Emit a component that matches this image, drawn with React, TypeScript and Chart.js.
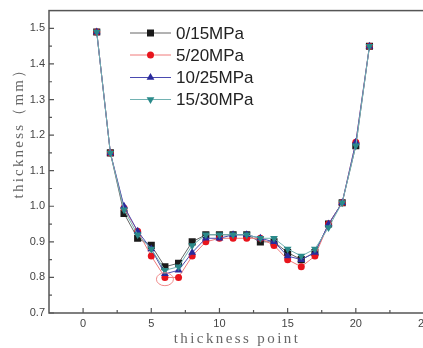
import React, { useEffect, useRef } from "react";
import { Chart, registerables } from "chart.js";

Chart.register(...registerables);

const xPoints = [1, 2, 3, 4, 5, 6, 7, 8, 9, 10, 11, 12, 13, 14, 15, 16, 17, 18, 19, 20, 21];
const seriesNames = ["0/15MPa", "5/20MPa", "10/25MPa", "15/30MPa"];
const s0 = [1.49, 1.15, 0.98, 0.91, 0.89, 0.83, 0.84, 0.9, 0.92, 0.92, 0.92, 0.92, 0.9, 0.9, 0.87, 0.85, 0.87, 0.95, 1.01, 1.17, 1.45];
const s1 = [1.49, 1.15, 0.995, 0.93, 0.86, 0.8, 0.8, 0.86, 0.9, 0.91, 0.91, 0.91, 0.91, 0.89, 0.85, 0.83, 0.86, 0.95, 1.01, 1.18, 1.45];
const s2 = [1.49, 1.15, 1.0, 0.93, 0.88, 0.81, 0.82, 0.87, 0.91, 0.91, 0.92, 0.92, 0.91, 0.9, 0.86, 0.85, 0.87, 0.95, 1.01, 1.18, 1.45];
const s3 = [1.49, 1.15, 0.99, 0.92, 0.88, 0.82, 0.83, 0.89, 0.92, 0.92, 0.92, 0.92, 0.91, 0.91, 0.88, 0.86, 0.88, 0.94, 1.01, 1.17, 1.45];
const yTicks = [0.7, 0.8, 0.9, 1.0, 1.1, 1.2, 1.3, 1.4, 1.5];
const yMinorTicks = [0.75, 0.85, 0.95, 1.05, 1.15, 1.25, 1.35, 1.45];
const xTicks = [0, 5, 10, 15, 20, 25];
const xMinorTicks = [2.5, 7.5, 12.5, 17.5, 22.5];
const xTitle = "thickness point";
const yTitle = "thickness（mm）";
const highlight = { x: 6, y: 0.795 };

const pointColors = ["#1a1a1a", "#e8141c", "#2a2a9c", "#2a8a8a"];
const lineColors = ["#666666", "#f07a7a", "#4a4ab0", "#72b2b2"];
const pointStyles = ["rect", "circle", "triangle", "triangle"];
const pointRotations = [0, 0, 0, 180];
const pointRadii = [5, 3.5, 4.5, 4.5];

function drawMarker(ctx: CanvasRenderingContext2D, i: number, cx: number, cy: number) {
  ctx.fillStyle = pointColors[i];
  ctx.beginPath();
  if (i === 0) {
    ctx.rect(cx - 3.5, cy - 3.5, 7, 7);
  } else if (i === 1) {
    ctx.arc(cx, cy, 3.5, 0, Math.PI * 2);
  } else {
    const r = 4.5;
    const s = i === 2 ? -1 : 1;
    ctx.moveTo(cx, cy + s * r);
    ctx.lineTo(cx - r * 0.866, cy - s * r * 0.5);
    ctx.lineTo(cx + r * 0.866, cy - s * r * 0.5);
    ctx.closePath();
  }
  ctx.fill();
}

const decor = {
  id: "decor",
  afterDraw(chart: any) {
    const { ctx, chartArea: a, scales } = chart;
    const x = scales.x;
    const y = scales.y;
    ctx.save();
    // frame
    ctx.strokeStyle = "#555";
    ctx.lineWidth = 1.5;
    ctx.strokeRect(a.left, a.top, a.right - a.left, a.bottom - a.top);
    // ticks
    ctx.lineWidth = 1.2;
    ctx.beginPath();
    yTicks.forEach((v) => {
      const py = y.getPixelForValue(v);
      ctx.moveTo(a.left, py);
      ctx.lineTo(a.left + 5, py);
    });
    yMinorTicks.forEach((v) => {
      const py = y.getPixelForValue(v);
      ctx.moveTo(a.left, py);
      ctx.lineTo(a.left + 3, py);
    });
    xTicks.forEach((v) => {
      const px = x.getPixelForValue(v);
      ctx.moveTo(px, a.bottom);
      ctx.lineTo(px, a.bottom - 5);
    });
    xMinorTicks.forEach((v) => {
      const px = x.getPixelForValue(v);
      ctx.moveTo(px, a.bottom);
      ctx.lineTo(px, a.bottom - 3);
    });
    ctx.stroke();
    // highlight ellipse
    ctx.strokeStyle = "#f08a8a";
    ctx.lineWidth = 1;
    ctx.beginPath();
    ctx.ellipse(x.getPixelForValue(highlight.x), y.getPixelForValue(highlight.y), 8.5, 6.5, 0, 0, Math.PI * 2);
    ctx.stroke();
    // legend
    const rows = [33, 55, 77.5, 99.5];
    chart.data.datasets.forEach((ds: any, i: number) => {
      const ry = rows[i];
      ctx.strokeStyle = lineColors[i];
      ctx.lineWidth = 1;
      ctx.beginPath();
      ctx.moveTo(130, ry);
      ctx.lineTo(171, ry);
      ctx.stroke();
      drawMarker(ctx, i, 150.5, ry);
      ctx.fillStyle = "#222";
      ctx.font = '17px "Liberation Sans"';
      ctx.textAlign = "left";
      ctx.textBaseline = "middle";
      ctx.fillText(ds.label, 176, ry + 1);
    });
    // titles
    ctx.fillStyle = "#666";
    ctx.font = '15px "Liberation Serif"';
    (ctx as any).letterSpacing = "2.4px";
    ctx.textAlign = "center";
    ctx.textBaseline = "alphabetic";
    ctx.fillText(xTitle, 237, 343);
    ctx.translate(23, 129.5);
    ctx.rotate(-Math.PI / 2);
    (ctx as any).letterSpacing = "2.2px";
    ctx.fillText(yTitle, 0, 0);
    ctx.restore();
  },
};

export default function App() {
  const ref = useRef<HTMLCanvasElement>(null);
  useEffect(() => {
    if (!ref.current) return;
    const datasets = [s0, s1, s2, s3].map((s, i) => ({
      label: seriesNames[i],
      data: s.map((v, k) => ({ x: xPoints[k], y: v })),
      borderColor: lineColors[i],
      backgroundColor: pointColors[i],
      pointBackgroundColor: pointColors[i],
      pointBorderColor: pointColors[i],
      pointBorderWidth: 0,
      borderWidth: 1,
      pointStyle: pointStyles[i],
      pointRotation: pointRotations[i],
      pointRadius: pointRadii[i],
      tension: 0,
      order: 4 - i,
    }));
    const chart = new Chart(ref.current, {
      type: "line",
      data: { datasets },
      options: {
        animation: false,
        responsive: false,
        devicePixelRatio: 1,
        layout: { padding: { left: 0, top: 7, right: 16, bottom: 0 } },
        plugins: { legend: { display: false }, tooltip: { enabled: false } },
        scales: {
          x: {
            type: "linear",
            min: -2.5,
            max: 25,
            grid: { display: false, drawTicks: false },
            border: { display: false },
            afterBuildTicks: (s: any) => {
              s.ticks = xTicks.map((v) => ({ value: v }));
            },
            afterFit: (s: any) => {
              s.height = 35;
            },
            ticks: {
              autoSkip: false,
              maxRotation: 0,
              padding: 4,
              color: "#444",
              font: { family: "Liberation Sans", size: 11 },
              callback: (v: any) => String(v),
            },
          },
          y: {
            type: "linear",
            min: 0.7,
            max: 1.55,
            grid: { display: false, drawTicks: false },
            border: { display: false },
            afterBuildTicks: (s: any) => {
              s.ticks = yTicks.map((v) => ({ value: v }));
            },
            afterFit: (s: any) => {
              s.width = 49;
            },
            ticks: {
              autoSkip: false,
              padding: 4,
              color: "#444",
              font: { family: "Liberation Sans", size: 11 },
              callback: (v: any) => Number(v).toFixed(1),
            },
          },
        },
      },
      plugins: [decor],
    });
    return () => chart.destroy();
  }, []);
  return (
    <div style={{ position: "fixed", left: 0, top: 0, width: 423, height: 348, overflow: "hidden", background: "#fff" }}>
      <canvas ref={ref} width={440} height={348} style={{ display: "block", width: 440, height: 348 }} />
    </div>
  );
}
